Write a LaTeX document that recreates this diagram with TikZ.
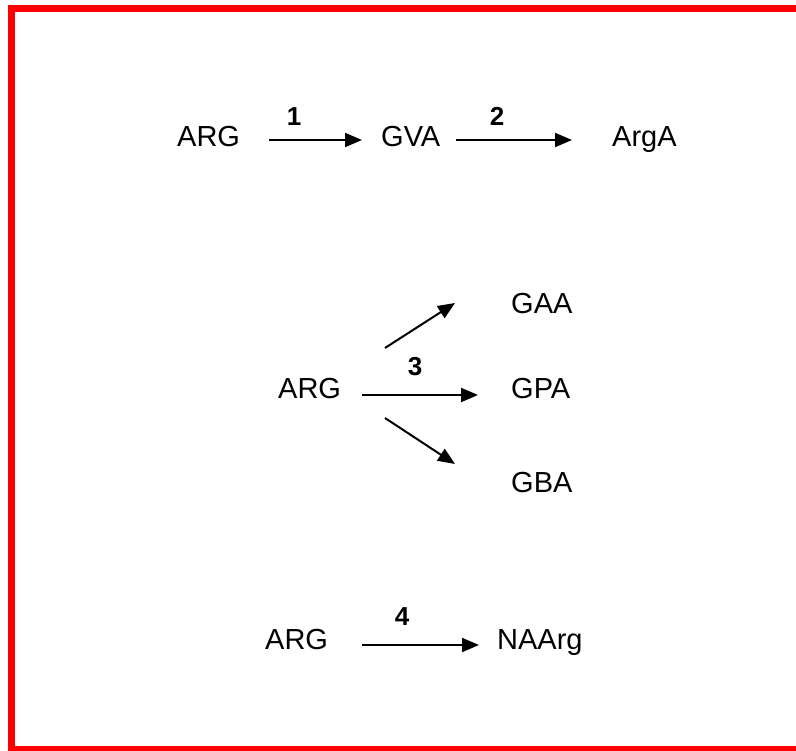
\documentclass[tikz,border=0pt]{standalone}
\usepackage{fontspec}
\setmainfont{Liberation Sans}
\usetikzlibrary{arrows.meta}
\tikzset{
  chem/.style={anchor=base west, inner sep=0pt, font=\fontsize{29}{29}\selectfont},
  lab/.style={anchor=base, inner sep=0pt, font=\fontsize{26}{26}\selectfont\bfseries},
  arr/.style={line width=2pt, -{Triangle[length=17pt,width=14pt]}},
  frame/.style={draw=red, line width=7pt}
}
\begin{document}
\begin{tikzpicture}[x=1pt,y=-1pt]
\useasboundingbox (0,0) rectangle (796,751);
\fill[white] (0,0) rectangle (796,751);
\draw[frame] (804,8.5) -- (11.5,8.5) -- (11.5,749.5) -- (804,749.5);

% row 1
\node[chem] (argA1) at (177,147) {ARG};
\node[chem] (gva) at (381,147) {GVA};
\node[chem] (arga) at (612,147) {ArgA};
\coordinate (s1) at (269,140); \coordinate (e1) at (362,140);
\coordinate (s2) at (456,140); \coordinate (e2) at (572,140);
\draw[arr] (s1) -- (e1);
\draw[arr] (s2) -- (e2);
\node[lab] (l1) at (294,126) {1};
\node[lab] (l2) at (497,126) {2};

% row 2
\node[chem] (argB) at (278,399) {ARG};
\node[chem] (gaa) at (511,314) {GAA};
\node[chem] (gpa) at (511,399) {GPA};
\node[chem] (gba) at (511,493) {GBA};
\coordinate (s3a) at (385,348); \coordinate (e3a) at (455,303);
\coordinate (s3b) at (362,395); \coordinate (e3b) at (478,395);
\coordinate (s3c) at (385,418); \coordinate (e3c) at (455,464);
\draw[arr] (s3a) -- (e3a);
\draw[arr] (s3b) -- (e3b);
\draw[arr] (s3c) -- (e3c);
\node[lab] (l3) at (415,376) {3};

% row 3
\node[chem] (argC) at (265,649) {ARG};
\node[chem] (naarg) at (497,649) {NAArg};
\coordinate (s4) at (362,645); \coordinate (e4) at (479,645);
\draw[arr] (s4) -- (e4);
\node[lab] (l4) at (402,625) {4};
\end{tikzpicture}
\end{document}
